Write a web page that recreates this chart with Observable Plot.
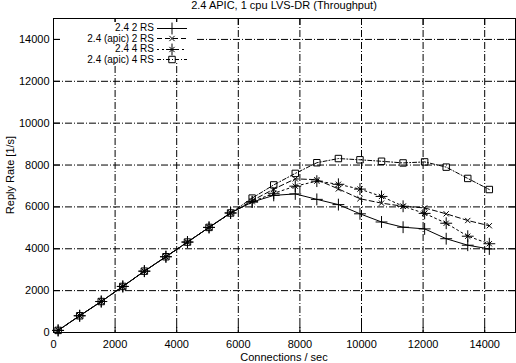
<!DOCTYPE html>
<html><head><meta charset="utf-8">
<script src="https://cdn.jsdelivr.net/npm/d3@7"></script>
<script src="https://cdn.jsdelivr.net/npm/@observablehq/plot@0.6"></script>
<style>
body{margin:0;background:#fff;}
#wrap{position:relative;width:516px;height:363px;overflow:hidden;font-family:"Liberation Sans",Arial,Helvetica,sans-serif;color:#000;}
.t{position:absolute;font-size:11px;white-space:nowrap;line-height:1;}
</style></head><body><div id="wrap"></div>
<script>
// ---- data ----
const title = "2.4 APIC, 1 cpu LVS-DR (Throughput)";
const xLabel = "Connections / sec";
const yLabel = "Reply Rate [1/s]";
const connections = [150,850,1550,2250,2950,3650,4350,5050,5750,6450,7150,7850,8550,9250,9950,10650,11350,12050,12750,13450,14150];
const seriesNames = ["2.4 2 RS","2.4 (apic) 2 RS","2.4 4 RS","2.4 (apic) 4 RS"];
const rate_24_2rs     = [100,800,1480,2200,2930,3620,4320,5020,5710,6230,6550,6620,6360,6110,5670,5280,5030,4950,4480,4170,3990];
const rate_apic_2rs   = [100,800,1480,2200,2930,3620,4320,5020,5710,6300,6850,7340,7300,6860,6390,6180,6030,5950,5670,5350,5100];
const rate_24_4rs     = [100,800,1480,2200,2930,3620,4320,5020,5710,6250,6650,6990,7230,7080,6850,6500,6030,5690,5220,4600,4240];
const rate_apic_4rs   = [100,800,1480,2200,2930,3620,4320,5020,5710,6420,7050,7600,8110,8310,8250,8180,8100,8150,7900,7360,6830];
const xTicks = [0,2000,4000,6000,8000,10000,12000,14000];
const yTicks = [0,2000,4000,6000,8000,10000,12000,14000];

// ---- layout / style ----
const W=516,H=363,mL=53,mR=1,mT=18,mB=31;
const plotW=W-mL-mR, plotH=H-mT-mB;
const valueSets=[rate_24_2rs,rate_apic_2rs,rate_24_4rs,rate_apic_4rs];
const styles=[
  {dash:null, syms:[["plus",3.9]]},
  {dash:"5,3", syms:[["times",2.5]]},
  {dash:"2,3", syms:[["plus",3.9],["times",2.5]]},
  {dash:"4,2,1,2", syms:[["square2",4.1]]}
];
const rows=[];
seriesNames.forEach((s,i)=>connections.forEach((x,j)=>rows.push({s,x,y:valueSets[i][j]})));

const marks=[
  Plot.gridX(xTicks.filter(d=>d>0),{stroke:"black",strokeOpacity:1,strokeDasharray:"7,2,1,2"}),
  Plot.gridY(yTicks.filter(d=>d>0),{stroke:"black",strokeOpacity:1,strokeDasharray:"7,2,1,2"}),
  Plot.tickX(xTicks,{x:d=>d,insetTop:plotH-7,stroke:"black"}),
  Plot.tickX(xTicks,{x:d=>d,insetBottom:plotH-7,stroke:"black"}),
  Plot.tickY(yTicks,{y:d=>d,insetRight:plotW-7,stroke:"black"}),
  Plot.tickY(yTicks,{y:d=>d,insetLeft:plotW-7,stroke:"black"}),
  Plot.axisX({ticks:xTicks,tickSize:0,tickPadding:8,tickFormat:d=>String(d),label:null}),
  Plot.axisY({ticks:yTicks,tickSize:0,tickPadding:4,tickFormat:d=>String(d),label:null})
];
seriesNames.forEach((s,i)=>{
  const d=rows.filter(r=>r.s===s);
  marks.push(Plot.line(d,{x:"x",y:"y",stroke:"black",strokeWidth:1,strokeDasharray:styles[i].dash}));
  styles[i].syms.forEach(([sym,r])=>marks.push(Plot.dot(d,{x:"x",y:"y",symbol:sym,r,stroke:"black",fill:"none",strokeWidth:1})));
});
marks.push(Plot.frame({stroke:"black"}));

const chart=Plot.plot({
  width:W,height:H,marginLeft:mL,marginRight:mR,marginTop:mT,marginBottom:mB,
  style:{fontFamily:'"Liberation Sans",Arial,sans-serif',fontSize:"11px",background:"white",color:"black",overflow:"visible"},
  x:{domain:[0,15000],label:null},
  y:{domain:[0,15000],label:null},
  marks
});
const wrap=document.getElementById("wrap");
wrap.appendChild(chart);

// titles
function addText(txt,css){const d=document.createElement("div");d.className="t";d.textContent=txt;Object.assign(d.style,css);wrap.appendChild(d);return d;}
addText(title,{top:"0px",left:mL+"px",width:plotW+"px",textAlign:"center"});
addText(xLabel,{top:"352px",left:mL+"px",width:plotW+"px",textAlign:"center"});
addText(yLabel,{left:"10px",top:(mT+plotH/2)+"px",transform:"translate(-50%,-50%) rotate(-90deg)"});

// legend
const svg=d3.select(wrap).append("svg").attr("width",W).attr("height",H)
  .style("position","absolute").style("left","0").style("top","0")
  .style("font-family",'"Liberation Sans",Arial,sans-serif').style("font-size","10px");
svg.append("rect").attr("x",61).attr("y",22).attr("width",134).attr("height",41).attr("fill","white");
const symGen={plus:d3.symbolPlus,times:d3.symbolTimes,square2:d3.symbolSquare2};
seriesNames.forEach((s,i)=>{
  const y=27.5+i*10.5;
  svg.append("text").attr("x",154).attr("y",y).attr("dy","0.35em").attr("text-anchor","end").text(s);
  svg.append("line").attr("x1",157).attr("x2",187).attr("y1",Math.round(y)+0.5).attr("y2",Math.round(y)+0.5).attr("stroke","black")
    .attr("stroke-dasharray",styles[i].dash);
  styles[i].syms.forEach(([sym,r])=>{
    svg.append("path").attr("d",d3.symbol(symGen[sym],Math.PI*r*r)()).attr("transform",`translate(172,${Math.round(y)+0.5})`)
      .attr("fill","none").attr("stroke","black");
  });
});
</script></body></html>
